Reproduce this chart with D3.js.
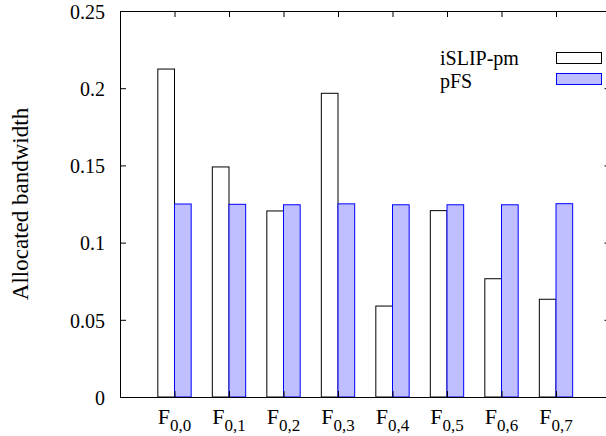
<!DOCTYPE html>
<html>
<head>
<meta charset="utf-8">
<script src="https://cdn.jsdelivr.net/npm/d3@7"></script>
<style>
  html, body { margin: 0; padding: 0; background: #fff; }
  svg { display: block; font-family: "Liberation Serif", "Times New Roman", serif; }
</style>
</head>
<body>
<svg id="chart" width="606" height="436"></svg>
<script>
// ---- data ----
const categoryMain = ["F", "F", "F", "F", "F", "F", "F", "F"];
const categorySub = ["0,0", "0,1", "0,2", "0,3", "0,4", "0,5", "0,6", "0,7"];
const seriesNames = ["iSLIP-pm", "pFS"];
const islipValues = [0.2124, 0.149, 0.1205, 0.1967, 0.0589, 0.1207, 0.0766, 0.0633];
const pfsValues = [0.1250, 0.1248, 0.1245, 0.1251, 0.1245, 0.1245, 0.1245, 0.1252];
const yTickValues = [0, 0.05, 0.1, 0.15, 0.2, 0.25];
const yTickLabels = ["0", "0.05", "0.1", "0.15", "0.2", "0.25"];
const yLabel = "Allocated bandwidth";

// ---- layout ----
const svg = d3.select("#chart");
const pLeft = 120, pRight = 610.5, pTop = 11, pBottom = 397;
const barW = 0.306;

const x = d3.scaleLinear().domain([-1, 8]).range([pLeft, pRight]);
const y = d3.scaleLinear().domain([0, 0.25]).range([pBottom, pTop]);

const series = [
  { name: seriesNames[0], values: islipValues, fill: "#ffffff", stroke: "#000000", off: -barW },
  { name: seriesNames[1], values: pfsValues, fill: "#bfbfff", stroke: "#0000ff", off: 0 }
];

// bars
series.forEach(s => {
  svg.append("g").selectAll("rect")
    .data(s.values)
    .join("rect")
    .attr("x", (d, i) => x(i + s.off))
    .attr("y", d => y(d))
    .attr("width", (d, i) => x(i + s.off + barW) - x(i + s.off))
    .attr("height", d => y(0) - y(d))
    .attr("fill", s.fill)
    .attr("stroke", s.stroke)
    .attr("stroke-width", 1);
});

// axes
const idx = d3.range(categorySub.length);
const yAxisL = d3.axisLeft(y).tickValues(yTickValues).tickSizeInner(-6).tickSizeOuter(0)
  .tickFormat((d, i) => yTickLabels[i]).tickPadding(15);
const gL = svg.append("g").attr("transform", `translate(${pLeft},0)`).call(yAxisL);
const yAxisR = d3.axisRight(y).tickValues(yTickValues).tickSizeInner(-6).tickSizeOuter(0).tickFormat("");
svg.append("g").attr("transform", `translate(${pRight},0)`).call(yAxisR);
const xAxisB = d3.axisBottom(x).tickValues(idx).tickSizeInner(-6).tickSizeOuter(0).tickFormat("");
svg.append("g").attr("transform", `translate(0,${pBottom})`).call(xAxisB);
const xAxisT = d3.axisTop(x).tickValues(idx).tickSizeInner(-6).tickSizeOuter(0).tickFormat("");
svg.append("g").attr("transform", `translate(0,${pTop})`).call(xAxisT);

svg.selectAll(".domain, .tick line").attr("stroke", "#000").attr("stroke-width", 1);
gL.selectAll("text").attr("font-size", 20).attr("fill", "#000")
  .attr("font-family", "Liberation Serif, serif").attr("dy", "0.36em");

// x tick labels with subscripts
const xl = svg.append("g").selectAll("text")
  .data(idx)
  .join("text")
  .attr("x", d => x(d))
  .attr("y", 424)
  .attr("text-anchor", "middle")
  .attr("font-size", 22)
  .attr("fill", "#000");
xl.append("tspan").text(d => categoryMain[d]);
xl.append("tspan").attr("font-size", 17).attr("dy", 6.5).text(d => categorySub[d]);

// y label
svg.append("text")
  .attr("transform", `translate(28,${(pTop + pBottom) / 2}) rotate(-90)`)
  .attr("text-anchor", "middle")
  .attr("font-size", 23)
  .attr("fill", "#000")
  .text(yLabel);

// legend
const legend = svg.append("g");
const legendBaselines = [65, 87.5];
const legendBoxTops = [52.5, 73.5];
series.forEach((s, i) => {
  legend.append("text")
    .attr("x", 440).attr("y", legendBaselines[i])
    .attr("font-size", 20).attr("fill", "#000")
    .text(s.name);
  legend.append("rect")
    .attr("x", 556.5).attr("y", legendBoxTops[i])
    .attr("width", 45).attr("height", 11)
    .attr("fill", s.fill).attr("stroke", s.stroke).attr("stroke-width", 1);
});
</script>
</body>
</html>
